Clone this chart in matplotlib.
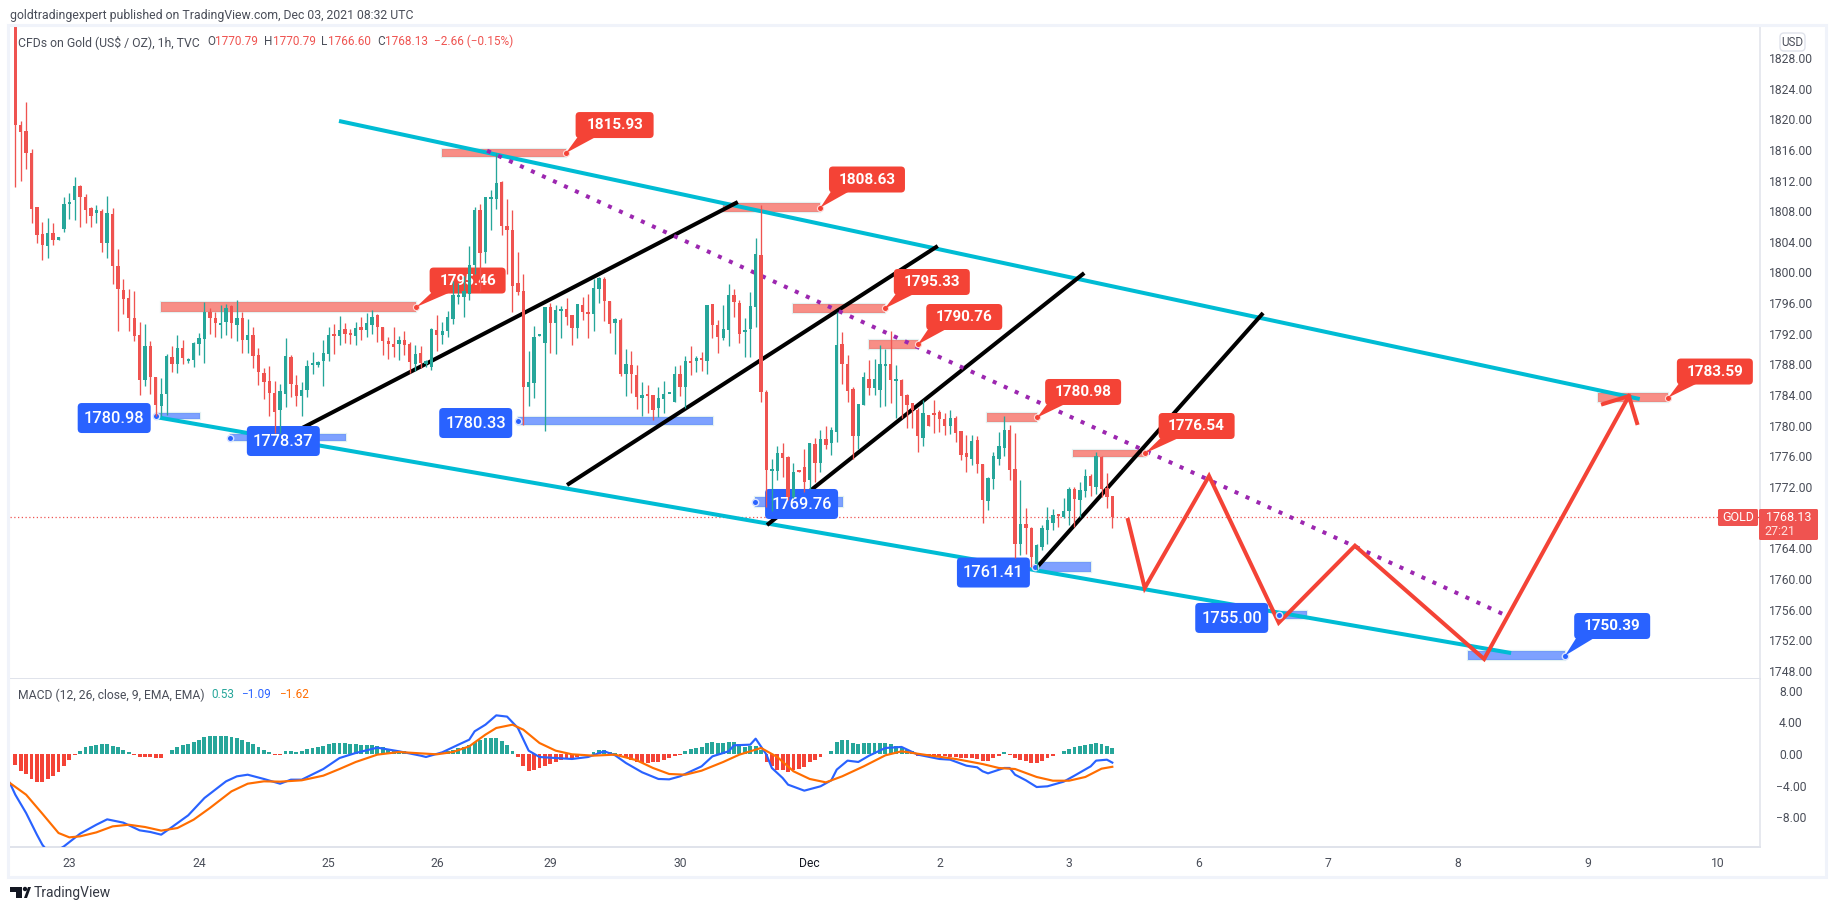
import matplotlib
matplotlib.use("Agg")
import matplotlib.pyplot as plt
import numpy as np
from matplotlib.patches import Rectangle, FancyBboxPatch, Polygon, Circle
from matplotlib.transforms import IdentityTransform

plt.rcParams['font.family'] = ['Roboto', 'DejaVu Sans']

# ---- hourly candles (open, high, low, close) ----
opens = [1834,1819.3,1818.5,1815.6,1808.6,1805.0,1803.5,1805.1,1804.3,1805.7,1809.0,1809.4,1811.3,1809.8,1808.4,1807.8,1808.0,1803.9,1807.6,1800.8,
1797.7,1796.7,1794.1,1791.8,1786.0,1790.4,1786.4,1782.6,1784.2,1789.0,1788.0,1790.2,1788.5,1788.6,1790.7,1791.3,1794.9,1794.1,1793.2,1793.6,
1795.6,1793.2,1794.1,1791.2,1791.9,1789.2,1786.9,1785.8,1784.3,1782.0,1784.2,1789.0,1785.3,1783.9,1784.7,1787.9,1787.9,1788.5,1789.4,1791.8,
1791.7,1792.6,1792.0,1791.7,1792.9,1792.5,1793.1,1794.4,1792.9,1791.1,1790.7,1790.7,1791.2,1790.7,1788.1,1789.5,1788.1,1787.7,1792.5,1791.8,
1792.4,1793.9,1796.8,1796.8,1797.2,1801.0,1808.1,1802.7,1809.6,1809.6,1811.8,1806.1,1805.5,1798.6,1797.6,1785.0,1785.6,1791.7,1790.8,1795.5,
1793.4,1795.0,1795.2,1794.4,1792.8,1795.8,1794.8,1794.6,1797.9,1799.1,1796.3,1793.4,1793.8,1786.8,1787.9,1786.6,1783.6,1784.2,1784.0,1782.3,
1783.5,1784.1,1783.1,1786.7,1785.0,1788.4,1788.5,1788.8,1788.5,1795.9,1793.1,1791.5,1792.5,1797.1,1796.0,1792.2,1792.6,1795.5,1802.3,1784.4,
1774.1,1774.1,1776.4,1775.9,1770.7,1774.2,1774.6,1772.9,1777.6,1775.1,1778.2,1777.7,1779.2,1790.6,1788.1,1784.8,1778.7,1782.7,1786.1,1784.9,
1784.7,1787.8,1788.1,1785.8,1786.0,1784.0,1782.9,1782.1,1778.4,1781.4,1781.5,1781.8,1780.9,1780.0,1781.0,1779.3,1776.5,1775.7,1778.1,1775.0,
1770.2,1773.0,1775.7,1777.1,1779.4,1774.3,1764.5,1767.2,1766.6,1762.0,1764.1,1766.4,1767.3,1768.4,1768.1,1768.9,1771.7,1770.3,1771.5,1773.4,
1772.0,1775.9,1771.9,1770.79]
highs = [1834,1819.8,1822.3,1816.1,1808.6,1806.6,1807.1,1806.4,1804.6,1809.9,1810.4,1812.5,1811.4,1810.2,1808.6,1808.8,1808.3,1810.0,1808.4,1803.1,
1799.2,1797.9,1797.6,1793.5,1793.3,1791.0,1786.4,1786.2,1789.4,1790.4,1791.8,1791.2,1788.9,1790.9,1792.1,1796.1,1795.3,1794.8,1795.8,1795.9,
1795.8,1796.4,1794.8,1793.9,1792.9,1790.1,1787.5,1787.8,1785.8,1785.5,1791.4,1789.2,1786.6,1785.7,1788.6,1789.6,1788.5,1791.2,1792.9,1793.3,
1794.3,1793.4,1792.6,1793.5,1794.2,1794.7,1795.1,1794.6,1792.9,1791.6,1792.9,1791.7,1792.3,1790.9,1790.5,1790.4,1788.6,1792.7,1794.5,1793.6,
1795.0,1798.9,1798.6,1799.5,1803.5,1808.6,1809.0,1809.9,1810.8,1815.6,1812.0,1809.6,1808.2,1802.7,1799.8,1789.7,1793.0,1791.8,1795.5,1796.0,
1795.8,1795.6,1796.7,1794.4,1795.9,1796.8,1797.2,1799.2,1799.4,1799.4,1796.3,1794.1,1794.0,1790.0,1789.7,1787.9,1785.7,1785.3,1784.0,1785.0,
1785.8,1784.2,1787.8,1787.9,1789.1,1790.4,1789.1,1789.6,1795.8,1795.9,1793.8,1795.8,1798.5,1797.8,1796.4,1794.0,1797.4,1804.5,1808.8,1784.7,
1775.6,1777.4,1777.7,1776.1,1775.1,1774.2,1777.0,1777.8,1778.4,1779.5,1779.9,1779.8,1794.8,1792.2,1789.2,1785.0,1782.8,1787.0,1788.6,1788.7,
1790.5,1790.0,1792.4,1787.9,1786.1,1784.1,1782.9,1782.3,1783.4,1781.4,1783.4,1782.0,1781.6,1782.0,1781.2,1779.3,1778.8,1778.8,1778.6,1775.0,
1773.3,1776.6,1779.2,1781.3,1780.1,1779.0,1772.9,1769.2,1766.8,1764.5,1767.1,1769.4,1769.1,1768.5,1770.6,1772.0,1772.0,1772.7,1774.3,1773.7,
1776.6,1776.0,1773.8,1770.79]
lows = [1811.1,1812.0,1813.5,1806.5,1803.8,1801.6,1801.9,1803.6,1804.3,1805.3,1807.0,1806.9,1805.9,1806.5,1806.0,1806.4,1802.7,1801.9,1798.5,1792.4,
1794.6,1792.4,1791.1,1784.0,1785.2,1784.2,1781.2,1781.2,1781.4,1787.0,1786.9,1788.0,1788.2,1787.7,1789.2,1788.2,1792.0,1791.6,1791.5,1791.9,
1791.4,1791.0,1789.5,1789.5,1787.5,1785.3,1783.5,1781.2,1779.0,1779.0,1782.5,1783.8,1782.6,1781.3,1783.8,1786.7,1787.7,1785.2,1788.5,1789.4,
1790.5,1790.8,1790.7,1790.5,1791.2,1791.6,1792.0,1790.9,1789.2,1788.7,1789.0,1788.6,1789.2,1786.9,1787.2,1787.5,1787.7,1787.3,1789.7,1790.7,
1791.6,1793.3,1795.9,1794.2,1796.4,1799.8,1797.6,1801.3,1805.6,1808.3,1804.9,1799.8,1794.9,1797.0,1780.1,1782.6,1783.6,1791.7,1779.3,1789.5,
1789.4,1791.4,1793.1,1790.5,1791.4,1793.8,1791.4,1792.3,1796.0,1793.7,1792.1,1789.4,1786.5,1783.9,1784.3,1782.2,1781.3,1781.6,1780.7,1781.1,
1781.7,1784.1,1783.1,1783.9,1782.3,1786.6,1787.0,1787.2,1786.8,1791.5,1789.5,1791.2,1790.4,1794.2,1790.8,1789.0,1789.0,1792.9,1783.1,1769.4,
1768.8,1772.9,1773.3,1770.3,1770.5,1773.9,1771.4,1771.8,1772.7,1774.0,1777.0,1776.2,1777.9,1785.5,1783.1,1775.7,1777.0,1782.7,1784.0,1784.0,
1782.5,1782.6,1782.9,1781.0,1781.0,1779.7,1779.7,1776.6,1777.4,1779.9,1779.1,1779.2,1778.8,1778.9,1777.9,1775.5,1774.0,1774.9,1773.8,1767.3,
1769.0,1771.8,1774.9,1776.0,1772.9,1762.7,1763.1,1763.3,1761.6,1761.2,1763.8,1764.6,1766.4,1766.8,1767.9,1767.0,1766.8,1768.1,1770.7,1770.8,
1771.1,1770.7,1769.3,1766.60]
closes = [1819.2,1818.3,1815.6,1808.3,1804.9,1803.6,1805.1,1804.2,1804.6,1809.0,1809.2,1811.3,1809.8,1808.2,1807.4,1808.1,1803.9,1807.8,1800.8,1797.8,
1796.6,1794.0,1791.7,1786.0,1790.4,1786.4,1782.7,1784.1,1789.1,1788.0,1790.1,1788.8,1788.7,1790.8,1791.4,1794.9,1794.1,1793.4,1793.4,1795.4,
1793.4,1794.1,1791.2,1791.9,1789.1,1787.0,1785.7,1784.3,1781.8,1784.5,1789.1,1785.4,1783.9,1784.7,1787.8,1788.2,1788.3,1789.5,1791.8,1791.7,
1792.5,1792.0,1791.8,1792.8,1792.5,1793.4,1794.2,1792.9,1791.0,1790.7,1790.3,1791.2,1790.5,1788.3,1789.4,1788.2,1788.5,1792.6,1791.8,1792.4,
1794.2,1797.1,1797.1,1797.6,1801.0,1808.2,1802.6,1809.8,1809.7,1811.7,1806.1,1805.5,1798.3,1797.5,1785.1,1785.7,1791.6,1791.8,1795.5,1793.4,
1795.1,1795.2,1794.2,1792.8,1795.9,1794.9,1794.6,1798.0,1799.3,1796.3,1793.3,1793.9,1786.7,1788.0,1786.8,1783.8,1784.0,1783.9,1782.1,1783.6,
1784.1,1784.2,1786.7,1785.0,1788.4,1788.2,1788.8,1788.6,1795.7,1793.1,1791.6,1792.6,1797.1,1796.1,1792.0,1792.5,1795.6,1802.4,1784.4,1774.2,
1774.3,1776.4,1775.8,1770.7,1774.0,1773.9,1772.7,1777.7,1775.1,1778.3,1777.5,1779.4,1790.5,1788.1,1784.5,1778.7,1782.8,1786.3,1784.9,1786.1,
1788.1,1788.1,1785.9,1786.1,1783.9,1782.7,1782.0,1778.6,1781.6,1779.9,1781.4,1780.9,1780.0,1781.0,1779.1,1776.2,1775.9,1778.0,1775.0,1770.3,
1773.2,1776.0,1777.3,1779.4,1774.2,1764.6,1767.2,1766.6,1762.9,1764.4,1766.6,1767.7,1768.3,1768.2,1768.9,1771.7,1770.4,1771.6,1773.4,1772.1,
1776.0,1771.8,1770.7,1768.13]

# ---- MACD pane ----
macd_hist = [-1.39,-2.11,-2.53,-3.17,-3.54,-3.54,-3.17,-2.83,-2.24,-1.52,-.76,-.13,.42,.84,1.06,1.14,1.22,1.27,.97,.84,.51,.21,-.13,-.42,-.34,-.34,-.51,-.51,-.04,.51,
.93,1.14,1.31,1.56,1.81,2.19,2.28,2.28,2.28,2.28,2.15,1.98,1.73,1.48,1.27,.89,.51,.21,-.08,-.13,.38,.38,.30,.42,.63,.80,.89,1.01,1.27,1.39,1.39,1.39,1.31,1.22,1.18,1.14,1.10,1.06,
.84,.63,.51,.42,.34,.21,.13,.08,.02,.04,.13,.21,.34,.51,.72,.89,1.18,1.48,1.77,2.03,2.07,2.07,1.69,1.14,.38,-.34,-1.48,-2.11,-1.98,-1.81,-1.48,-1.27,-.97,-.76,-.59,-.46,-.34,-.21,-.04,.30,.51,.51,.30,.13,
-.13,-.55,-.80,-1.06,-1.10,-1.14,-1.06,-.97,-.80,-.55,-.30,-.08,.34,.59,.72,.84,1.39,1.48,1.39,1.39,1.48,1.52,1.22,.89,.97,.97,.46,-.97,-1.48,-1.98,-2.03,-2.24,-1.98,-1.90,-1.65,-1.06,-.76,-.38,-.04,.38,1.48,1.77,1.77,1.35,1.27,1.35,1.39,1.39,1.39,1.39,1.27,.97,.76,.55,.34,
-.21,-.30,-.30,-.25,-.21,-.30,-.34,-.34,-.46,-.55,-.55,-.63,-.89,-.89,-.46,-.21,.25,-.08,-.55,-.72,-.89,-1.14,-1.14,-.89,-.46,-.21,-.04,.34,.63,.93,.97,1.14,1.27,1.39,1.27,1.01,.72]
macd_bars = [-1,0,2,4,5,6,7,9,12,15,17,20,23,25,27,29,32,35,39,41,43,46,49,51,53,57,60,63,67,71,75,76,79,82,84,85,87,89,91,93,95,97,100,103,106,109,111,
113,116,119,121,123,127,129,132,133,136,137,139,140,142,143,146,149,151,152,154,156,158,161,164,167,171,173,176,178,179,180,183,184,185,187,189,191,194,196,199,200,202,203]
macd_line = [-3.67,-5.15,-7.47,-10.21,-11.48,-12.32,-12.53,-11.69,-10.08,-8.95,-8.27,-8.69,-9.66,-9.87,-10.21,-9.24,-7.76,-5.57,-3.46,-2.83,-2.62,-3.16,-3.76,-3.25,-3.25,-1.90,-.51,.13,.80,.34,-.21,-.38,.21,1.18,1.81,2.87,3.71,4.89,4.73,3.29,.42,-.38,-.51,-.63,-.38,.34,-.17,
-1.14,-2.32,-3.16,-3.21,-2.83,-1.56,-.30,.34,1.10,1.18,1.94,-.08,-1.77,-3.04,-3.88,-4.64,-4.09,-3.33,-1.98,-.84,-1.01,-.21,.76,.89,-.08,-.63,-.72,-1.48,-1.69,-2.19,-2.45,-1.77,-1.77,-2.62,-3.33,-4.18,-4.09,-3.50,-2.74,-1.56,-.84,-.72,-1.09]
signal_bars = [-1,2,5,8,10,12,15,18,21,24,27,30,33,36,40,43,46,49,53,57,60,63,67,71,75,78,81,84,87,89,92,94,97,100,103,107,111,
115,118,121,124,127,131,134,138,141,144,147,150,153,157,161,164,169,174,179,182,185,189,192,195,198,201,203]
signal_line = [-3.67,-5.15,-7.55,-10.0,-10.55,-10.42,-9.92,-9.16,-8.95,-9.24,-9.70,-9.37,-8.31,-6.84,-4.73,-3.76,-3.46,-3.50,-3.33,-2.74,-1.90,-1.01,-.08,.25,.08,-.04,.25,.97,2.45,3.29,3.71,3.08,1.39,.42,-.04,-.21,-.08,
-.80,-1.77,-2.53,-2.62,-2.11,-1.01,-.08,.76,-.38,-2.19,-3.16,-3.59,-2.83,-1.56,-.17,.34,-.17,-.63,-1.27,-1.77,-1.90,-2.91,-3.38,-3.38,-2.91,-1.86,-1.62]

# ---- axis labels ----
price_ticks = list(range(1748, 1829, 4))
macd_ticks = [8, 4, 0, -4, -8]
day_bars = [10, 34, 58, 78, 99, 123, 147, 171, 195, 219, 243, 267, 291, 315]
day_labels = ['23', '24', '25', '26', '29', '30', 'Dec', '2', '3', '6', '7', '8', '9', '10']
last_price = 1768.13

# ---- chart drawings: (bar, price) anchors ----
cyan_lines = [([59.9, 300.6], [1819.78, 1783.48]), ([26.0, 276.8], [1781.13, 1750.32])]
black_lines = [([53.1, 133.7], [1779.7, 1809.2]), ([102.1, 170.7], [1772.26, 1803.46]),
               ([139.1, 197.8], [1767.03, 1799.93]), ([189.1, 230.9], [1761.55, 1794.71])]
purple_bars, purple_prices = [87.3, 275.7], [1815.9, 1755.28]
path_bars = [205.9, 209.0, 220.9, 233.8, 247.9, 271.8, 298.6]
path_prices = [1767.69, 1758.81, 1773.43, 1754.28, 1764.33, 1749.54, 1783.87]
arrow_bars = [293.8, 298.6, 300.1]
arrow_prices = [1782.83, 1783.87, 1780.35]

# zones: bar0, bar1, price top, price bottom
red_zones = [(79.0,101.9,1816.12,1815.08),(27.0,74.2,1796.15,1794.84),(130.9,149.0,1809.07,1807.9),
             (143.9,160.9,1795.89,1794.71),(158.0,167.0,1791.19,1790.01),(179.8,189.1,1781.66,1780.48),
             (195.8,209.0,1776.83,1775.91),(292.8,305.9,1784.27,1783.09)]
blue_zones = [(26.0,34.2,1781.66,1780.87),(39.7,61.2,1778.91,1778.0),(93.0,129.2,1781.13,1780.09),
              (136.9,153.2,1770.69,1769.38),(188.7,199.0,1762.2,1760.9),(233.8,239.0,1755.81,1754.76),
              (268.8,286.8,1750.58,1749.41)]
# labels: text, centre bar, centre price
red_labels = [('1815.93',110.9,1819.25),('1795.46',83.7,1798.95),('1808.63',157.6,1812.14),('1795.33',169.6,1798.76),
              ('1790.76',175.6,1794.19),('1780.98',197.6,1784.4),('1776.54',218.6,1779.96),('1783.59',314.5,1787.07)]
blue_labels = [('1780.98',18.3,1781.0),('1778.37',49.6,1778.0),('1780.33',85.2,1780.35),('1769.76',145.5,1769.78),
               ('1761.41',181.0,1760.83),('1755.00',225.1,1754.9)]
blue_callout = ('1750.39', 295.5, 1753.85)

UP, DOWN = '#26a69a', '#ef5350'
RED, BLUE = '#f44336', '#2962ff'
GRID = '#e0e3eb'
FRAME = '#f0f3fa'
TXT = '#4a4e59'
W, H = 1834, 910

fig = plt.figure(figsize=(W / 100, H / 100), dpi=100, facecolor='white')
def pane(x0, ytop, x1, ybot):
    return fig.add_axes([x0 / W, 1 - ybot / H, (x1 - x0) / W, (ybot - ytop) / H])
def fy(y):
    return 1 - y / H

# outer frame
fig.patches.append(Rectangle((8 / W, fy(877)), 1818 / W, 852 / H, transform=fig.transFigure, fc='none', ec=FRAME, lw=2.2))

ax = pane(10, 27, 1760, 679)
am = pane(10, 679, 1760, 847)
xlim = ((10 - 15.3) / 5.404, (1760 - 15.3) / 5.404)
bars = np.arange(len(opens))
o, h_, l, c = map(np.array, (opens, highs, lows, closes))
cols = [UP if a >= b else DOWN for a, b in zip(c, o)]

ax.set_xlim(*xlim)
ax.set_ylim(1746.93, 1832.05)
am.set_xlim(*xlim)
am.set_ylim(-11.77, 9.49)

# candles sit above the drawings
ax.vlines(bars, l, h_, colors=cols, lw=0.95, zorder=10)
ax.bar(bars, np.maximum(np.abs(c - o), 0.25), bottom=np.minimum(o, c), width=0.62, color=cols, lw=0, zorder=11)

ax.axhline(last_price, color=DOWN, lw=0.9, ls=(0, (1, 2)), zorder=2)

for zones, col in ((red_zones, RED), (blue_zones, BLUE)):
    for b0, b1, top, bot in zones:
        ax.add_patch(Rectangle((b0, bot), b1 - b0, top - bot, fc=col, alpha=0.6, lw=0, zorder=3))
        ax.add_patch(Rectangle((b0, bot), b1 - b0, top - bot, fc='none', ec='#e3f1f1', lw=1.6, zorder=2.9))

for bs, ps in cyan_lines:
    ax.plot(bs, ps, color='#00bcd4', lw=2.9, solid_capstyle='butt', zorder=4)
for bs, ps in black_lines:
    ax.plot(bs, ps, color='black', lw=2.9, solid_capstyle='butt', zorder=4)
ax.plot(purple_bars, purple_prices, color='#9c27b0', lw=2.9, ls=(0, (1, 2.0)), zorder=4)
ax.plot(path_bars, path_prices, color=RED, lw=2.9, solid_joinstyle='miter', zorder=6)
ax.plot(arrow_bars, arrow_prices, color=RED, lw=2.9, solid_joinstyle='miter', zorder=6)

# end-of-zone handles
for z in red_zones:
    ax.plot(z[1], (z[2] + z[3]) / 2, 'o', ms=4.4, mfc=RED, mec='#ffd9d6', mew=0.8, zorder=7, clip_on=False)
for i, z in enumerate(blue_zones):
    ax.plot(z[1] if i == 6 else z[0], (z[2] + z[3]) / 2, 'o', ms=4.6, mfc=BLUE, mec='#d7e2ff', mew=1.0, zorder=7)

fig.canvas.draw()
def to_px(b, p):
    return ax.transData.transform((b, p))
def box(bar, price, w, hh, col, text, bold):
    cx, cy = to_px(bar, price)
    ax.add_patch(FancyBboxPatch((cx - w / 2 + 3, cy - hh / 2 + 3), w - 6, hh - 6, boxstyle='round,pad=3,rounding_size=4',
                                fc=col, ec='none', transform=IdentityTransform(), zorder=8, clip_on=False))
    ax.text(cx, cy - 0.3, text, transform=IdentityTransform(), ha='center', va='center', color='white',
            fontsize=11.0 if bold else 11.8, fontweight='bold' if bold else 'medium', zorder=9, clip_on=False)
    return cx, cy
def callout(tip_bar, tip_price, cx, cy, w, hh, col):
    tx, ty = to_px(tip_bar, tip_price)
    x0, yb = cx - w / 2, cy - hh / 2
    ax.add_patch(Polygon([(tx, ty), (x0 + 2, yb + 1), (x0 + 20, yb + 1)], closed=True, fc=col, ec='none',
                         transform=IdentityTransform(), zorder=7.5, clip_on=False))

for (txt, b, p), z in zip(red_labels, red_zones):
    w_ = 78 if txt == '1815.93' else 76
    cx, cy = box(b, p, w_, 26, RED, txt, True)
    callout(z[1], (z[2] + z[3]) / 2, cx, cy, w_, 26, RED)
for txt, b, p in blue_labels:
    box(b, p, 73, 30, BLUE, txt, False)
cx, cy = box(blue_callout[1], blue_callout[2], 76, 26, BLUE, blue_callout[0], True)
z = blue_zones[6]
callout(z[1], (z[2] + z[3]) / 2, cx, cy, 76, 26, BLUE)

# MACD pane
hcols = [UP if v >= 0 else RED for v in macd_hist]
am.bar(np.arange(len(macd_hist)), macd_hist, width=0.72, color=hcols, lw=0, zorder=2)
am.plot(macd_bars, macd_line, color='#2962ff', lw=1.55, zorder=3)
am.plot(signal_bars, signal_line, color='#ff6d00', lw=1.55, zorder=4)

for a, ticks, fmt in ((ax, price_ticks, '{:.2f}'), (am, macd_ticks, '{:.2f}')):
    a.yaxis.tick_right()
    a.set_yticks(ticks)
    a.set_yticklabels([fmt.format(t).replace('-', '\u2212') for t in ticks], fontsize=8.7, color=TXT)
    a.tick_params(axis='y', length=0, pad=22.3)
    for t in a.get_yticklabels():
        t.set_ha('center')
    for s in ('top', 'left'):
        a.spines[s].set_visible(False)
    a.spines['right'].set_color(GRID)
    a.spines['bottom'].set_color(GRID)
    a.spines['right'].set_linewidth(1.1)
    a.spines['bottom'].set_linewidth(1.4)
ax.set_xticks([])
am.set_xticks(day_bars)
am.set_xticklabels(day_labels, fontsize=8.7, color=TXT)
am.tick_params(axis='x', length=0, pad=7)
for t in am.get_xticklabels():
    if t.get_text() == 'Dec':
        t.set_color('#131722')

# last price tags
fig.patches.append(FancyBboxPatch((1718, H - 526), 40, 17, boxstyle='round,pad=0,rounding_size=1.5', fc=DOWN, ec='none', transform=IdentityTransform()))
fig.patches.append(FancyBboxPatch((1759, H - 540), 59, 31, boxstyle='round,pad=0,rounding_size=1.5', fc=DOWN, ec='none', transform=IdentityTransform()))
fig.text(1738 / W, fy(517.5), 'GOLD', color='white', fontsize=9.0, ha='center', va='center')
fig.text(1789 / W, fy(517.5), '1768.13', color='white', fontsize=9.0, ha='center', va='center')
fig.text(1780 / W, fy(531.5), '27:21', color='#ffe2e0', fontsize=9.0, ha='center', va='center')

# USD button
fig.patches.append(FancyBboxPatch((1780, H - 51), 25, 18, boxstyle='round,pad=0,rounding_size=4', fc='white', ec=GRID, lw=1, transform=IdentityTransform()))
fig.text(1792.5 / W, fy(42.5), 'USD', color=TXT, fontsize=8.4, ha='center', va='center', zorder=5)

# header and legends
fig.text(10 / W, fy(15), 'goldtradingexpert published on TradingView.com, Dec 03, 2021 08:32 UTC', color=TXT, fontsize=8.8, va='center')
def lg(x, y, s, col, fs=8.5):
    fig.text(x / W, fy(y), s, color=col, fontsize=fs, va='center')
lg(18, 41.7, 'CFDs on Gold (US$ / OZ), 1h, TVC', TXT, 8.8)
for x, s, col in ((207, 'O', TXT), (215, '1770.79', DOWN), (264, 'H', TXT), (273, '1770.79', DOWN), (321, 'L', TXT),
                  (328, '1766.60', DOWN), (377, 'C', TXT), (385, '1768.13', DOWN), (434, '\u22122.66 (\u22120.15%)', DOWN)):
    lg(x, 41.7, s, col)
lg(18, 695, 'MACD (12, 26, close, 9, EMA, EMA)', TXT, 8.7)
lg(211, 695, '0.53', UP)
lg(241, 695, '\u22121.09', '#2962ff')
lg(279, 695, '\u22121.62', '#ff6d00')

# footer logo
for poly in ([(10, 887), (22, 887), (22, 898), (16, 898), (16, 892), (10, 892)],
             [(24, 898), (28, 887), (31, 887), (27, 898)]):
    fig.patches.append(Polygon([(x, H - y) for x, y in poly], closed=True, fc='#131722', ec='none', transform=IdentityTransform()))
fig.patches.append(Circle((25, H - 889), 2.2, fc='#131722', ec='none', transform=IdentityTransform()))
fig.text(34 / W, fy(892.5), 'TradingView', color='#333742', fontsize=10, va='center')

fig.savefig('out.png', dpi=100, facecolor='white')
